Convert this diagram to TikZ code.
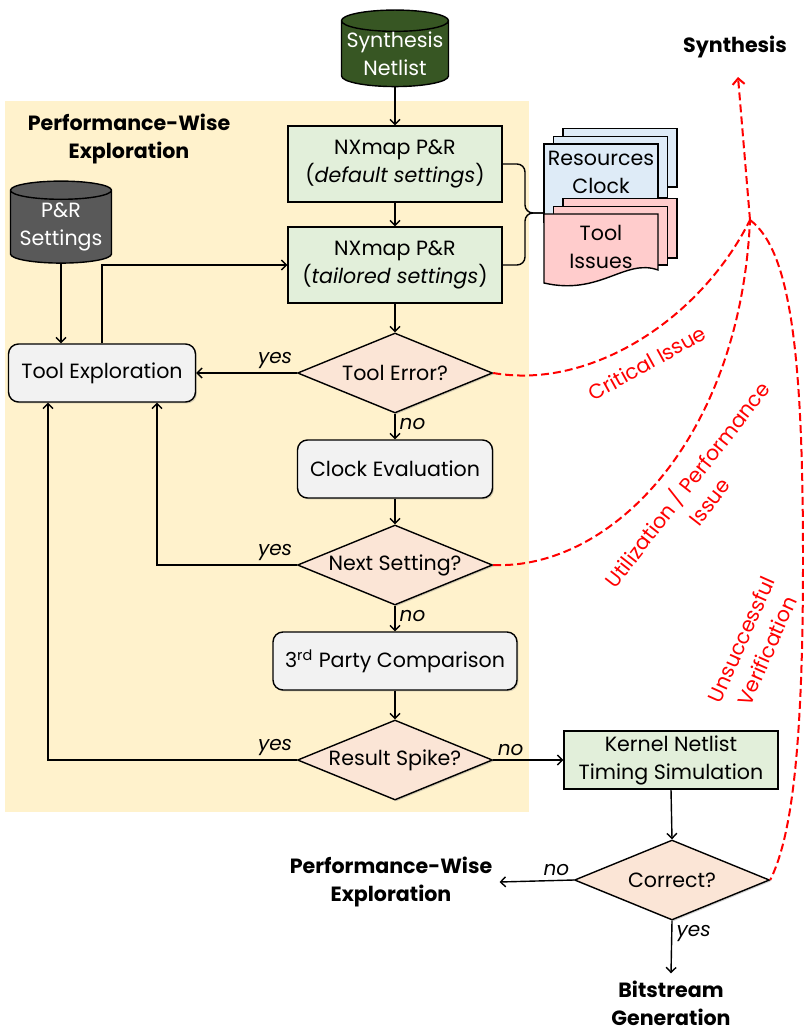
\documentclass[tikz,border=0pt]{standalone}
\usepackage{fontspec}
\setmainfont{Poppins}
\usepackage{tikz}
\usetikzlibrary{positioning,calc,arrows.meta,shapes.geometric,shadows}
\definecolor{PaleYellow}{HTML}{FFF2CC}
\definecolor{PaleGreen}{HTML}{E2EFDA}
\definecolor{LightGray}{HTML}{F2F2F2}
\definecolor{Peach}{HTML}{FBE5D6}
\definecolor{PaleBlue}{HTML}{DEEBF7}
\definecolor{PalePink}{HTML}{FFCCCC}
\definecolor{DarkGreen}{HTML}{375623}
\definecolor{DarkGray}{HTML}{595959}
\definecolor{IssueRed}{HTML}{FF0000}

\begin{document}
\begin{tikzpicture}[x=0.5pt,y=-0.5pt,line width=0.7pt,
 every node/.style={font=\fontsize{10.3}{14}\selectfont},
 arr/.style={-{Straight Barb[length=2.5pt,width=5pt]}},
 nx/.style={rectangle,draw,fill=PaleGreen,align=center,minimum width=107pt,minimum height=38pt,inner sep=1pt},
 act/.style={rectangle,rounded corners=5pt,draw,fill=LightGray,align=center,minimum height=29pt,
  drop shadow={shadow xshift=0.7pt,shadow yshift=-0.7pt,opacity=0.35}},
 ask/.style={diamond,draw,fill=Peach,aspect=2.4,inner sep=0pt,minimum width=97.5pt,minimum height=40pt,
  drop shadow={shadow xshift=0.7pt,shadow yshift=-0.7pt,opacity=0.35}},
 db/.style={cylinder,shape border rotate=90,aspect=0.22,draw,text=white,align=center,inner sep=0pt},
 sheet/.style={draw,line width=0.7pt},
 lbl/.style={font=\fontsize{10}{12}\selectfont\itshape,inner sep=2pt},
 ttl/.style={font=\fontsize{10.3}{14}\selectfont\bfseries,align=center},
 issue/.style={IssueRed,dash pattern=on 4pt off 2pt,line width=1pt},
 note/.style={text=IssueRed,align=center}]
\useasboundingbox (0,0) rectangle (803,1031);
\fill[PaleYellow] (5,101) rectangle (529,812);
\node[ttl] (pwtitle) at (129,139) {Performance-Wise\\Exploration};
\node[db,fill=DarkGreen,minimum width=53.5pt,minimum height=32pt] (syn) at (395,54) {Synthesis\\Netlist};
\node[nx] (nx1) at (395,164) {NXmap P\&R\\(\textit{default settings})};
\node[nx] (nx2) at (395,265) {NXmap P\&R\\(\textit{tailored settings})};
\node[db,fill=DarkGray,minimum width=50.5pt,minimum height=41pt] (prs) at (61,227) {P\&R\\Settings};
\node[act,minimum width=93.5pt] (tx) at (102,373) {Tool Exploration};
\node[ask] (te) at (395,373) {Tool Error?};
\node[act,minimum width=97.5pt] (ce) at (395,469) {Clock Evaluation};
\node[ask] (ns) at (395,565) {Next Setting?};
\node[act,minimum width=122pt] (tp) at (395,661) {3\textsuperscript{rd} Party Comparison};
\node[ask] (rs) at (395,760) {Result Spike?};
\node[nx,minimum height=29pt] (kn) at (671,760) {Kernel Netlist\\Timing Simulation};
\node[ask] (cr) at (672,880) {Correct?};
\node[ttl] (pwout) at (391,882) {Performance-Wise\\Exploration};
\node[ttl] (bits) at (671,1003) {Bitstream\\Generation};
\node[ttl] (synout) at (735,47) {Synthesis};

\foreach \d/\b in {19/187,9.5/198}
 \draw[sheet,fill=PaleBlue] (544+\d,144-0.8*\d) rectangle (658+\d,\b);
\draw[sheet,fill=PaleBlue] (544,144) rectangle (658,222);
\node[align=center] (res) at (601,172) {Resources\\Clock};
\foreach \d/\b in {19/258,9.5/265}
 \draw[sheet,fill=PalePink] (544+\d,214-0.8*\d) rectangle (658+\d,\b);
\draw[sheet,fill=PalePink] (544,214) -- (658,214) -- (658,270)
 .. controls (625,258) and (600,296) .. (544,283) -- cycle;
\node[align=center] (iss) at (601,247) {Tool\\Issues};

\coordinate (brc) at (525,213);
\coordinate (issin) at (544,213);
\draw[rounded corners=4pt] (nx1.east) -| (brc) -- (issin);
\draw[rounded corners=4pt] (nx2.east) -| (brc) -- (issin);

\draw[arr] (syn.south) -- (nx1.north);
\draw[arr] (nx1.south) -- (nx2.north);
\draw[arr] (nx2.south) -- (te.north);
\draw[arr] (prs.south) -- (prs.south |- tx.north);
\draw[arr] (tx.north) |- (nx2.west);
\draw[arr] (te.west) node[lbl,above left] {yes} -- (tx.east);
\draw[arr] (te.south) node[lbl,below right] {no} -- (ce.north);
\draw[arr] (ce.south) -- (ns.north);
\draw[arr] (ns.west) node[lbl,above left] {yes} -| ($(tx.south)+(55,0)$);
\draw[arr] (ns.south) node[lbl,below right] {no} -- (tp.north);
\draw[arr] (tp.south) -- (rs.north);
\draw[arr] (rs.west) node[lbl,above left] {yes} -| ($(tx.south)+(-54,0)$);
\draw[arr] (rs.east) node[lbl,above right] {no} -- (kn.west);
\draw[arr] (kn.south) -- (cr.north);
\draw[arr] (cr.west) node[lbl,above left] {no} -- (pwout.east);
\draw[arr] (cr.south) node[lbl,below right] {yes} -- (bits.north);

\coordinate (J) at (750,220);
\coordinate (synin) at (738,77);
\draw[issue,-{Straight Barb[length=3pt,width=6pt]}] (J) -- (synin);
\draw[issue] (te.east) .. controls (590,390) and (700,320) .. (J);
\draw[issue] (ns.east) .. controls (610,570) and (740,440) .. (J);
\draw[issue] (J) .. controls (790,250) and (803,350) .. (803,560)
 .. controls (803,760) and (790,840) .. (cr.east);
\node[note,rotate=29] (crit) at (647,363) {Critical Issue};
\node[note,rotate=52] (util) at (697,492) {Utilization / Performance\\Issue};
\node[note,rotate=66] (veri) at (754,645) {Unsuccessful\\Verification};
\end{tikzpicture}
\end{document}
